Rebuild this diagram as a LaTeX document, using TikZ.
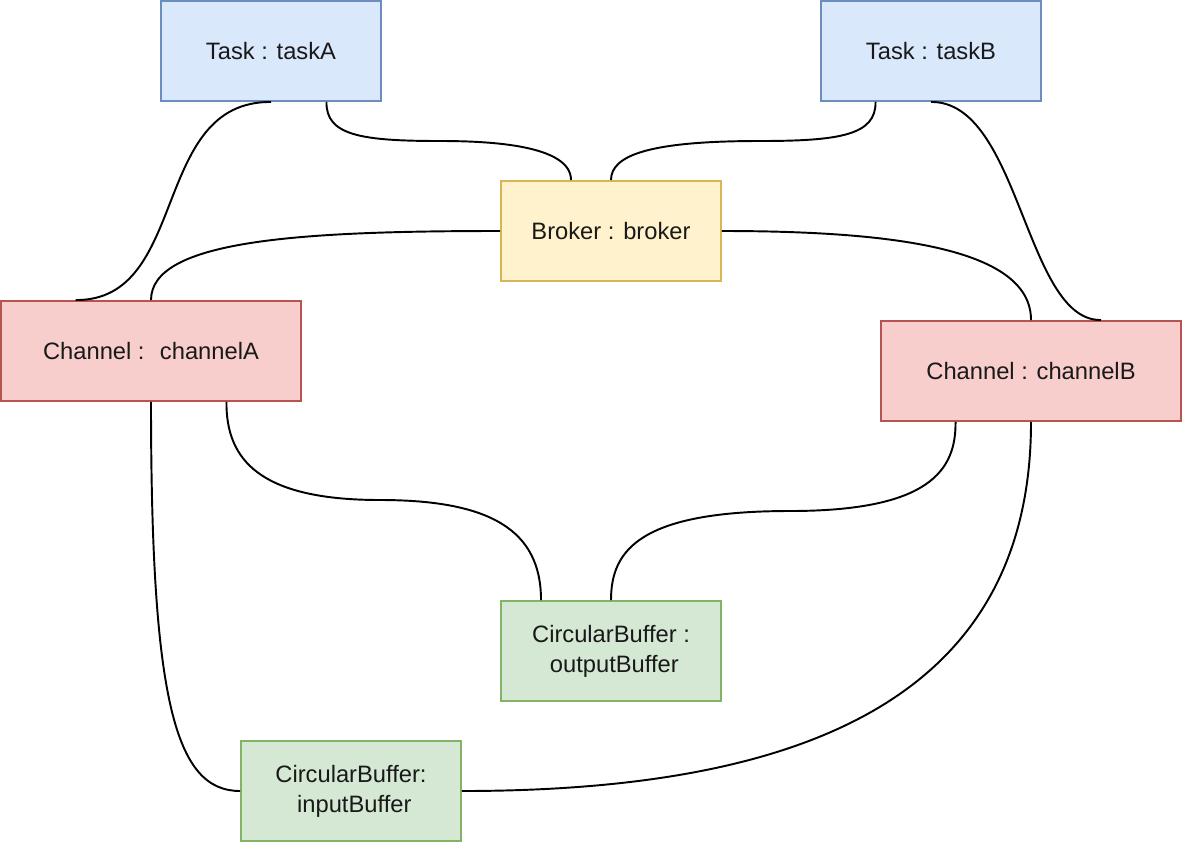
\documentclass[tikz,border=0pt]{standalone}
\usepackage{fontspec}
\setmainfont{Liberation Sans}
\usetikzlibrary{calc}

\definecolor{taskfill}{HTML}{DAE8FC}
\definecolor{taskline}{HTML}{6C8EBF}
\definecolor{brokerfill}{HTML}{FFF2CC}
\definecolor{brokerline}{HTML}{D6B656}
\definecolor{chanfill}{HTML}{F8CECC}
\definecolor{chanline}{HTML}{B85450}
\definecolor{buffill}{HTML}{D5E8D4}
\definecolor{bufline}{HTML}{82B366}

\begin{document}
\begin{tikzpicture}[
  x = 0.02cm,
  y = -0.02cm,
  box/.style={draw,line width=1.1pt,minimum width=4.4cm,minimum height=2cm,
    inner sep=0pt,align=center,text=black!90,font=\fontsize{13.5}{17}\selectfont},
  task-box/.style={box,fill=taskfill,draw=taskline},
  broker-box/.style={box,fill=brokerfill,draw=brokerline},
  channel-box/.style={box,fill=chanfill,draw=chanline,minimum width=6cm},
  buffer-box/.style={box,fill=buffill,draw=bufline},
  link/.style={line width=1.1pt},
  ]
  \useasboundingbox (0,0) rectangle (1182,842);

  \node [task-box]    (taskA)  at (271,51)  {Task : taskA};
  \node [task-box]    (taskB)  at (931,51)  {Task : taskB};
  \node [broker-box]  (broker) at (611,231) {Broker : broker};
  \node [channel-box] (chanA)  at (151,351) {Channel : \ channelA};
  \node [channel-box] (chanB)  at (1031,371) {Channel : channelB};
  \node [buffer-box]  (outBuf) at (611,651) {CircularBuffer :\\ \ outputBuffer};
  \node [buffer-box]  (inBuf)  at (351,791) {CircularBuffer:\\ \ inputBuffer};

  % tasks
  \draw [link] (taskA.south) .. controls (150,101) and (190,301)
    .. ($(chanA.north west)!0.5!(chanA.north)$);
  \draw [link] ($(taskA.south)!0.5!(taskA.south east)$) .. controls (326,135) and (360,141)
    .. (440,141) .. controls (490,141) and (571,145) .. ([xshift=-0.8cm]broker.north);
  \draw [link] ($(taskB.south west)!0.5!(taskB.south)$) .. controls (876,135) and (840,141)
    .. (760,141) .. controls (650,141) and (611,155) .. (broker.north);
  \draw [link] (taskB.south) .. controls (1020,101) and (1025,321)
    .. ([xshift=1.4cm]chanB.north);

  % broker
  \draw [link] (broker.west) .. controls (300,231) and (151,240) .. (chanA.north);
  \draw [link] (broker.east) .. controls (900,231) and (1031,250) .. (chanB.north);

  % buffers
  \draw [link] ($(chanA.south)!0.5!(chanA.south east)$) .. controls (226,460) and (260,500)
    .. (380,500) .. controls (490,500) and (541,530) .. ([xshift=-1.4cm]outBuf.north);
  \draw [link] ($(chanB.south west)!0.5!(chanB.south)$) .. controls (956,470) and (930,511)
    .. (790,511) .. controls (640,511) and (611,550) .. (outBuf.north);
  \draw [link] (chanA.south) .. controls (151,700) and (175,791) .. (inBuf.west);
  \draw [link] (chanB.south) .. controls (1031,700) and (800,791) .. (inBuf.east);
\end{tikzpicture}
\end{document}
